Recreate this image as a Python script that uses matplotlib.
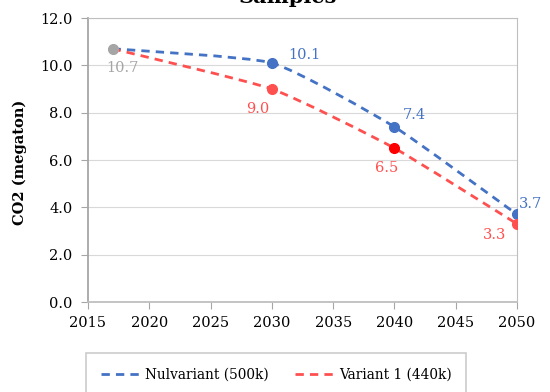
import numpy as np
import matplotlib
matplotlib.use("Agg")
import matplotlib.pyplot as plt
from matplotlib.path import Path
from matplotlib.patches import PathPatch
from matplotlib.lines import Line2D

# data
years = [2017, 2030, 2040, 2050]
nulvariant = [10.7, 10.1, 7.4, 3.7]
variant1 = [10.7, 9.0, 6.5, 3.3]
start_year = 2017
start_value = 10.7
series_names = ["Nulvariant (500k)", "Variant 1 (440k)"]
title = "Samples"
ylabel = "CO2 (megaton)"

BLUE = "#4472C4"
RED = "#FF5050"
GRAY = "#A5A5A5"
FONT = "DejaVu Serif"

plt.rcParams["font.family"] = FONT


def smooth_path(xs, ys, k=1 / 12.0):
    # bezier through the points, gentle like excel's smoothed line
    pts = np.column_stack([xs, ys]).astype(float)
    n = len(pts)
    verts = [pts[0]]
    codes = [Path.MOVETO]
    for i in range(n - 1):
        p0 = pts[i - 1] if i > 0 else pts[i]
        p1 = pts[i]
        p2 = pts[i + 1]
        p3 = pts[i + 2] if i + 2 < n else pts[i + 1]
        c1 = p1 + (p2 - p0) * k
        c2 = p2 - (p3 - p1) * k
        verts += [c1, c2, p2]
        codes += [Path.CURVE4] * 3
    return Path(verts, codes)


fig = plt.figure(figsize=(5.5, 3.92), dpi=100)
ax = fig.add_axes([88 / 550, 1 - 302 / 392, (517 - 88) / 550, (302 - 18) / 392])

dash = (0, (3, 2.2))
for vals, col in [(nulvariant, BLUE), (variant1, RED)]:
    patch = PathPatch(smooth_path(years, vals), facecolor="none", edgecolor=col,
                      lw=2, linestyle=dash, zorder=3, capstyle="butt")
    ax.add_patch(patch)

ax.plot(years[1:], nulvariant[1:], "o", color=BLUE, ms=7, zorder=4)
red_cols = [RED, "#FF0000", RED]
for x, y, c in zip(years[1:], variant1[1:], red_cols):
    ax.plot(x, y, "o", color=c, ms=7, zorder=4)
ax.plot(start_year, start_value, "o", color=GRAY, ms=7, zorder=4)

fs = 10.5
# value labels
ax.annotate(f"{start_value:.1f}", (start_year, start_value), xytext=(10, -19),
            textcoords="offset pixels", ha="center", va="center", color=GRAY, fontsize=fs)
blue_off = [(16, 8), (8, 12), (2, 10)]
for x, y, (dx, dy) in zip(years[1:], nulvariant[1:], blue_off):
    ax.annotate(f"{y:.1f}", (x, y), xytext=(dx, dy), textcoords="offset pixels",
                ha="left", va="center", color=BLUE, fontsize=fs)
red_off = [(-2, -20), (4, -20), (-11, -11)]
for x, y, (dx, dy) in zip(years[1:], variant1[1:], red_off):
    ax.annotate(f"{y:.1f}", (x, y), xytext=(dx, dy), textcoords="offset pixels",
                ha="right", va="center", color=RED, fontsize=fs)

ax.set_xlim(2015, 2050)
ax.set_ylim(0, 12)
ax.set_xticks(range(2015, 2051, 5))
ax.set_yticks(np.arange(0, 12.1, 2))
ax.set_yticklabels([f"{v:.1f}" for v in np.arange(0, 12.1, 2)])
ax.grid(axis="y", color="#D9D9D9", lw=0.8)
ax.set_axisbelow(True)
for s in ["top", "right", "bottom"]:
    ax.spines[s].set_color("#BFBFBF")
ax.spines["left"].set_color("#A6A6A6")
ax.spines["left"].set_linewidth(1.3)
ax.spines["bottom"].set_linewidth(1.3)
ax.tick_params(axis="both", colors="#A6A6A6", labelcolor="black", labelsize=fs, length=5)
ax.tick_params(axis="y", pad=6)
ax.tick_params(axis="x", pad=5)
ax.set_ylabel(ylabel, fontsize=10.5, fontweight="bold")
ax.yaxis.set_label_coords(-0.142, 0.493)

fig.text(0.523, 1 - 3 / 392, title, ha="center", va="baseline", fontsize=15, fontweight="bold")

handles = [Line2D([], [], color=BLUE, lw=2, linestyle=dash),
           Line2D([], [], color=RED, lw=2, linestyle=dash)]
leg = fig.legend(handles, series_names, loc="upper center", bbox_to_anchor=(0.502, 1 - 353 / 392),
                 ncol=2, frameon=True, fancybox=False, fontsize=9.8, handlelength=2.9,
                 borderpad=1.05, columnspacing=1.9, handletextpad=0.35, borderaxespad=0)
leg.get_frame().set_edgecolor("#BFBFBF")
leg.get_frame().set_linewidth(1.2)

fig.savefig("out.png", dpi=100)
